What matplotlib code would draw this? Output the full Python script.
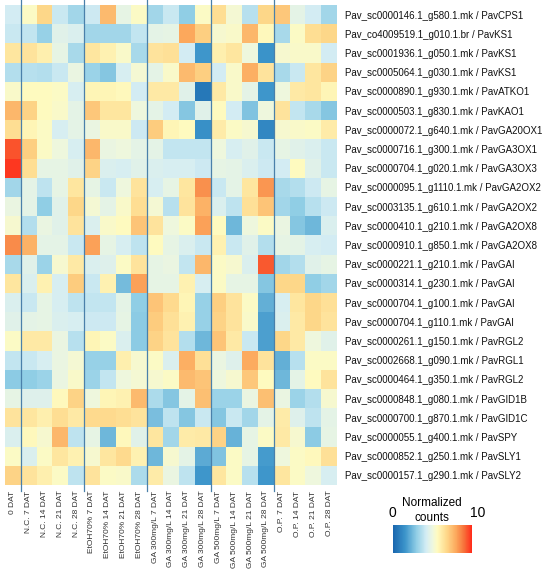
import matplotlib

matplotlib.use("Agg")

import matplotlib.pyplot as plt
import numpy as np
from matplotlib.colors import LinearSegmentedColormap

plt.rcParams["font.family"] = ["Liberation Sans", "DejaVu Sans"]

genes = [
    "Pav_sc0000146.1_g580.1.mk / PavCPS1",
    "Pav_co4009519.1_g010.1.br / PavKS1",
    "Pav_sc0001936.1_g050.1.mk / PavKS1",
    "Pav_sc0005064.1_g030.1.mk / PavKS1",
    "Pav_sc0000890.1_g930.1.mk / PavATKO1",
    "Pav_sc0000503.1_g830.1.mk / PavKAO1",
    "Pav_sc0000072.1_g640.1.mk / PavGA20OX1",
    "Pav_sc0000716.1_g300.1.mk / PavGA3OX1",
    "Pav_sc0000704.1_g020.1.mk / PavGA3OX3",
    "Pav_sc0000095.1_g1110.1.mk / PavGA2OX2",
    "Pav_sc0003135.1_g610.1.mk / PavGA2OX2",
    "Pav_sc0000410.1_g210.1.mk / PavGA2OX8",
    "Pav_sc0000910.1_g850.1.mk / PavGA2OX8",
    "Pav_sc0000221.1_g210.1.mk / PavGAI",
    "Pav_sc0000314.1_g230.1.mk / PavGAI",
    "Pav_sc0000704.1_g100.1.mk / PavGAI",
    "Pav_sc0000704.1_g110.1.mk / PavGAI",
    "Pav_sc0000261.1_g150.1.mk / PavRGL2",
    "Pav_sc0002668.1_g090.1.mk / PavRGL1",
    "Pav_sc0000464.1_g350.1.mk / PavRGL2",
    "Pav_sc0000848.1_g080.1.mk / PavGID1B",
    "Pav_sc0000700.1_g870.1.mk / PavGID1C",
    "Pav_sc0000055.1_g400.1.mk / PavSPY",
    "Pav_sc0000852.1_g250.1.mk / PavSLY1",
    "Pav_sc0000157.1_g290.1.mk / PavSLY2",
]

samples = [
    "0 DAT",
    "N.C. 7 DAT", "N.C. 14 DAT", "N.C. 21 DAT", "N.C. 28 DAT",
    "EtOH70% 7 DAT", "EtOH70% 14 DAT", "EtOH70% 21 DAT", "EtOH70% 28 DAT",
    "GA 300mg/L 7 DAT", "GA 300mg/L 14 DAT", "GA 300mg/L 21 DAT", "GA 300mg/L 28 DAT",
    "GA 500mg/L 7 DAT", "GA 500mg/L 14 DAT", "GA 500mg/L 21 DAT", "GA 500mg/L 28 DAT",
    "O.P. 7 DAT", "O.P. 14 DAT", "O.P. 21 DAT", "O.P. 28 DAT",
]

# normalized counts (0-10), one row per gene, one column per sample
counts = [
    [4.2, 5.5, 6.8, 4.0, 3.3, 4.1, 7.5, 4.8, 5.5, 3.3, 4.0, 3.0, 5.5, 6.6, 5.2, 3.7, 6.8, 7.2, 4.7, 4.2, 3.3],
    [4.0, 3.9, 3.1, 4.6, 4.4, 3.3, 3.3, 3.3, 3.9, 4.7, 4.8, 8.0, 7.0, 5.3, 5.4, 7.6, 5.7, 3.4, 5.5, 6.6, 6.8],
    [6.3, 6.4, 6.0, 4.8, 3.4, 6.3, 5.9, 5.4, 3.4, 6.4, 6.5, 4.2, 1.6, 6.0, 6.3, 5.0, 1.5, 5.3, 5.4, 5.4, 4.2],
    [3.6, 3.7, 3.6, 4.0, 4.9, 3.2, 2.8, 4.3, 5.2, 4.7, 5.4, 7.5, 7.0, 4.2, 5.4, 7.8, 6.4, 3.4, 4.0, 6.3, 6.9],
    [5.4, 5.6, 5.6, 5.5, 4.3, 5.8, 5.8, 5.7, 4.2, 6.2, 6.2, 4.6, 0.6, 6.2, 5.4, 4.7, 1.6, 5.0, 6.2, 6.3, 5.8],
    [7.6, 6.9, 5.6, 5.4, 4.7, 7.2, 6.3, 6.3, 5.0, 4.7, 4.2, 2.8, 4.6, 5.6, 4.2, 2.7, 5.0, 6.4, 3.9, 3.4, 2.8],
    [6.6, 5.8, 5.5, 4.3, 4.7, 4.9, 5.4, 5.4, 4.1, 7.1, 5.8, 5.6, 1.4, 6.1, 5.5, 5.3, 1.1, 5.3, 5.4, 5.5, 6.1],
    [9.4, 7.0, 5.5, 5.0, 4.3, 7.6, 4.9, 5.0, 4.7, 4.7, 3.9, 3.9, 3.9, 5.0, 4.3, 4.6, 4.0, 4.8, 4.6, 4.4, 4.0],
    [9.8, 6.6, 4.8, 4.8, 4.6, 6.9, 4.4, 4.3, 4.6, 4.4, 4.3, 4.3, 4.1, 4.8, 4.7, 4.4, 4.1, 4.2, 5.6, 4.6, 4.0],
    [3.3, 4.7, 3.8, 4.8, 6.3, 4.8, 4.0, 5.0, 6.4, 4.3, 4.8, 6.3, 8.4, 4.0, 4.7, 6.3, 8.3, 3.4, 3.6, 4.1, 4.8],
    [4.9, 4.7, 3.0, 4.6, 6.8, 5.2, 4.7, 5.4, 6.6, 5.2, 3.7, 6.4, 7.7, 4.4, 3.8, 6.5, 7.3, 3.3, 3.0, 3.7, 4.1],
    [5.3, 3.6, 4.9, 4.6, 6.4, 4.4, 5.4, 5.6, 7.3, 6.4, 5.0, 5.5, 8.1, 5.6, 2.4, 5.0, 5.5, 4.9, 2.8, 2.4, 4.4],
    [8.5, 7.7, 4.7, 4.7, 4.0, 8.1, 4.8, 4.3, 3.8, 5.6, 4.8, 4.4, 4.0, 5.9, 4.0, 4.6, 3.6, 4.8, 4.7, 4.3, 4.2],
    [3.4, 4.6, 3.2, 5.3, 6.2, 4.4, 4.5, 5.5, 6.4, 4.8, 4.9, 3.9, 7.6, 5.5, 5.3, 4.4, 9.3, 3.3, 3.6, 4.6, 4.8],
    [6.3, 4.4, 5.9, 4.3, 7.1, 4.0, 5.9, 2.5, 8.1, 4.8, 4.8, 5.9, 4.3, 5.5, 4.8, 4.8, 2.8, 6.8, 6.8, 3.0, 3.3],
    [4.4, 4.0, 4.8, 4.3, 3.8, 3.9, 3.9, 4.7, 3.0, 7.3, 6.7, 5.8, 3.1, 7.0, 6.4, 5.5, 2.2, 4.3, 6.3, 6.8, 6.5],
    [4.6, 4.7, 4.8, 4.4, 4.3, 4.1, 4.1, 4.8, 2.9, 7.1, 6.5, 5.9, 3.1, 6.9, 6.4, 5.4, 1.8, 4.4, 6.2, 6.8, 6.4],
    [5.5, 6.2, 6.2, 4.9, 3.7, 5.8, 5.5, 4.4, 2.9, 6.9, 6.4, 3.6, 2.4, 7.3, 6.2, 4.0, 1.8, 6.8, 6.2, 5.0, 4.6],
    [3.9, 4.0, 4.3, 4.9, 5.2, 3.1, 3.1, 6.0, 5.3, 5.5, 4.4, 7.8, 6.5, 4.9, 4.5, 7.9, 6.4, 2.2, 3.7, 5.5, 5.5],
    [2.9, 3.0, 3.2, 4.9, 5.4, 3.2, 3.9, 5.0, 5.2, 5.3, 5.5, 7.5, 7.3, 5.0, 5.3, 7.2, 5.6, 2.4, 4.7, 5.6, 6.4],
    [4.8, 4.5, 4.5, 5.7, 6.9, 5.0, 5.8, 5.9, 7.5, 3.5, 2.8, 4.7, 7.4, 3.2, 3.2, 4.9, 7.4, 4.9, 3.2, 3.6, 5.3],
    [6.4, 6.3, 6.0, 6.6, 6.2, 6.7, 6.7, 6.6, 6.4, 2.6, 3.8, 2.8, 4.0, 2.8, 4.0, 3.3, 4.7, 6.1, 4.5, 3.8, 4.7],
    [4.4, 5.7, 5.3, 7.6, 3.8, 4.8, 2.4, 5.7, 4.6, 6.3, 3.3, 6.1, 6.2, 6.9, 2.3, 4.8, 5.5, 6.2, 5.3, 2.9, 4.8],
    [5.5, 4.4, 5.5, 6.3, 5.9, 5.3, 6.3, 6.7, 5.9, 2.4, 5.3, 4.7, 2.1, 2.7, 5.5, 4.8, 1.7, 5.0, 5.5, 5.7, 6.5],
    [6.9, 6.4, 6.0, 5.5, 3.8, 6.4, 5.5, 5.4, 3.5, 6.1, 4.9, 3.8, 1.6, 6.3, 5.5, 3.7, 1.6, 6.3, 5.5, 5.0, 4.3],
]

# treatment groups start at these sample indices
group_starts = [1, 5, 9, 13, 17]

cmap = LinearSegmentedColormap.from_list(
    "counts",
    [
        (0.00, "#1a66ae"),
        (0.15, "#3b94ca"),
        (0.30, "#92cfe6"),
        (0.42, "#d4edf4"),
        (0.50, "#eef7df"),
        (0.56, "#fffbc0"),
        (0.68, "#fed88a"),
        (0.80, "#fca85c"),
        (0.90, "#f7713a"),
        (1.00, "#ff2a1a"),
    ],
)

data = np.array(counts)
n_rows, n_cols = data.shape

fig = plt.figure(figsize=(5.5, 5.69), dpi=100)
ax = fig.add_axes([5 / 550, 1 - 485 / 569, 332 / 550, 480 / 569])
im = ax.imshow(data, cmap=cmap, vmin=0, vmax=10, aspect="auto", interpolation="nearest")

for x in group_starts:
    ax.plot([x - 0.5, x - 0.5], [-0.8, n_rows - 0.2], color="#4a80aa",
            linewidth=0.9, clip_on=False, scalex=False, scaley=False)
ax.set_xlim(-0.5, n_cols - 0.5)
ax.set_ylim(n_rows - 0.5, -0.5)

for side in ax.spines.values():
    side.set_visible(False)

ax.set_xticks(range(n_cols))
ax.set_xticklabels(samples, rotation=90, fontsize=6, color="#333333")
ax.tick_params(axis="x", length=0, pad=4)
ax.yaxis.tick_right()
ax.set_yticks(range(n_rows))
ax.set_yticklabels(genes, fontsize=7.0, color="#111111")
ax.tick_params(axis="y", length=0, pad=5.5)

cax = fig.add_axes([393 / 550, 1 - 553 / 569, 79 / 550, 28 / 569])
cb = fig.colorbar(im, cax=cax, orientation="horizontal")
cb.set_ticks([])
cb.outline.set_visible(False)
fig.text(432 / 550, 1 - 503 / 569, "Normalized", ha="center", va="center", fontsize=8.5)
fig.text(432 / 550, 1 - 518 / 569, "counts", ha="center", va="center", fontsize=8.5)
fig.text(392 / 550, 1 - 513 / 569, "0", ha="center", va="center", fontsize=10)
fig.text(478 / 550, 1 - 513 / 569, "10", ha="center", va="center", fontsize=10)

fig.savefig("out.png", dpi=100)
plt.close(fig)
